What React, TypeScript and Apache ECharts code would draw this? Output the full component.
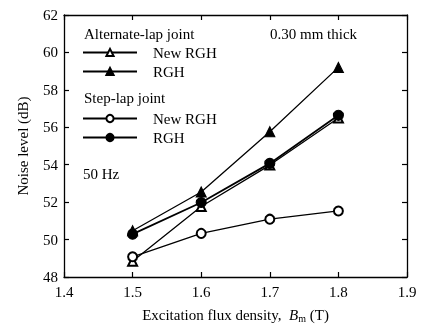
import React, { useEffect, useRef } from "react";
import * as echarts from "echarts";

const xValues = [1.5, 1.6, 1.7, 1.8];
const altNewRGH = [48.84, 51.77, 53.98, 56.5];
const altRGH = [50.47, 52.54, 55.76, 59.2];
const stepNewRGH = [49.08, 50.33, 51.09, 51.53];
const stepRGH = [50.29, 51.98, 54.07, 56.64];

const FONT = "Liberation Serif";

export default function App() {
  const ref = useRef<HTMLDivElement>(null);
  useEffect(() => {
    if (!ref.current) return;
    const chart = echarts.init(ref.current, undefined, { renderer: "svg" });
    const pair = (ys: number[]) => xValues.map((x, i) => [x, ys[i]]);
    const base = {
      type: "line",
      xAxisIndex: 0,
      yAxisIndex: 0,
      lineStyle: { color: "#000", width: 1.3 },
      itemStyle: { color: "#000", borderColor: "#000", borderWidth: 1.1 },
      z: 3,
    };
    const axisCommon = {
      axisLine: { show: true, lineStyle: { color: "#000", width: 1.3 } },
      axisTick: { show: true, inside: true, length: 5, lineStyle: { color: "#000", width: 1.2 } },
      splitLine: { show: false },
    };
    const txt = (text: string, left: number, top: number) => ({
      type: "text",
      left,
      top,
      style: { text, fontFamily: FONT, fontSize: 15, fill: "#000" },
    });
    const legendText = { fontFamily: FONT, fontSize: 15, color: "#000", padding: [0, 0, 0, 11] };
    chart.setOption({
      animation: false,
      grid: { left: 64, right: 16, top: 15, bottom: 50 },
      xAxis: [
        {
          type: "value",
          min: 1.4,
          max: 1.9,
          interval: 0.1,
          ...axisCommon,
          axisLabel: {
            color: "#000",
            fontFamily: FONT,
            fontSize: 15,
            margin: 7,
            formatter: (v: number) => v.toFixed(1),
          },
          name: "Excitation flux density,  {i|B}{s|m} (T)",
          nameLocation: "middle",
          nameGap: 30,
          nameTextStyle: {
            color: "#000",
            fontFamily: FONT,
            fontSize: 15,
            rich: {
              i: { fontFamily: FONT, fontSize: 15, fontStyle: "italic", color: "#000" },
              s: { fontFamily: FONT, fontSize: 10, color: "#000", verticalAlign: "bottom", padding: [6, 0, 0, 0] },
            },
          },
        },
        {
          type: "value",
          position: "top",
          min: 1.4,
          max: 1.9,
          interval: 0.1,
          ...axisCommon,
          axisLabel: { show: false },
        },
      ],
      yAxis: [
        {
          type: "value",
          min: 48,
          max: 62,
          interval: 2,
          ...axisCommon,
          axisLabel: { color: "#000", fontFamily: FONT, fontSize: 15, margin: 6 },
          name: "Noise level (dB)",
          nameLocation: "middle",
          nameGap: 34,
          nameTextStyle: { color: "#000", fontFamily: FONT, fontSize: 15 },
        },
        {
          type: "value",
          position: "right",
          min: 48,
          max: 62,
          interval: 2,
          ...axisCommon,
          axisLabel: { show: false },
        },
      ],
      legend: [
        {
          orient: "vertical",
          left: 77,
          top: 40,
          itemWidth: 54,
          itemHeight: 9,
          itemGap: 4,
          textStyle: legendText,
          data: ["Alternate-lap New RGH", "Alternate-lap RGH"],
          formatter: (n: string) => n.replace("Alternate-lap ", ""),
        },
        {
          orient: "vertical",
          left: 77,
          top: 106,
          itemWidth: 54,
          itemHeight: 9,
          itemGap: 4,
          textStyle: legendText,
          data: ["Step-lap New RGH", "Step-lap RGH"],
          formatter: (n: string) => n.replace("Step-lap ", ""),
        },
      ],
      graphic: [
        txt("Alternate-lap joint", 84, 26),
        txt("Step-lap joint", 84, 90),
        txt("0.30 mm thick", 270, 26),
        txt("50 Hz", 83, 166),
      ],
      series: [
        { ...base, name: "Alternate-lap New RGH", data: pair(altNewRGH), symbol: "emptyTriangle", symbolSize: 9 },
        { ...base, name: "Alternate-lap RGH", data: pair(altRGH), symbol: "triangle", symbolSize: 10 },
        { ...base, name: "Step-lap New RGH", data: pair(stepNewRGH), symbol: "emptyCircle", symbolSize: 9 },
        { ...base, name: "Step-lap RGH", data: pair(stepRGH), symbol: "circle", symbolSize: 10, lineStyle: { color: "#000", width: 1.8 } },
      ],
    });
    return () => chart.dispose();
  }, []);
  return (
    <div
      ref={ref}
      style={{ position: "fixed", left: 0, top: 0, width: 423, height: 328 }}
    />
  );
}
